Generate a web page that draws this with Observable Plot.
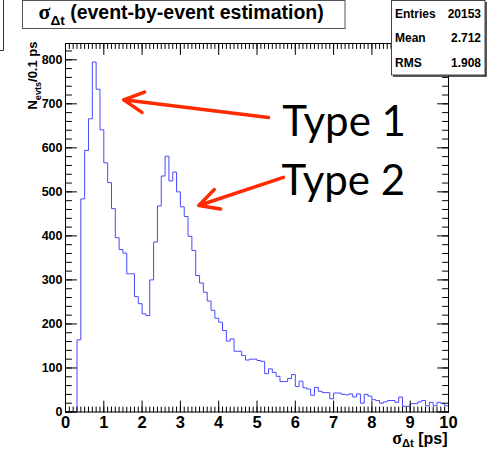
<!DOCTYPE html>
<html><head><meta charset="utf-8">
<script src="https://cdn.jsdelivr.net/npm/d3@7"></script>
<script src="https://cdn.jsdelivr.net/npm/@observablehq/plot@0.6"></script>
<style>html,body{margin:0;padding:0;background:#fff;} svg{display:block}</style>
</head><body><div id="chart"></div>
<script>
// ---- data ----
const binWidth = 0.1;
const binCounts = [
  0, 0, 0, 164, 484, 594, 666, 795, 733, 641,
  566, 521, 462, 396, 369, 361, 314, 314, 262, 246,
  223, 219, 300, 386, 468, 536, 581, 525, 545, 500,
  466, 444, 399, 367, 310, 293, 272, 252, 231, 213,
  204, 185, 161, 166, 138, 138, 128, 118, 120, 120,
  117, 115, 87, 98, 90, 81, 69, 69, 76, 85,
  58, 70, 55, 52, 38, 56, 47, 44, 44, 30,
  43, 43, 40, 39, 41, 34, 41, 20, 40, 36,
  28, 26, 20, 23, 26, 26, 22, 34, 13, 13,
  19, 19, 23, 26, 14, 22, 14, 22, 19, 14
];
const xMajorTicks = [0, 1, 2, 3, 4, 5, 6, 7, 8, 9, 10];
const yMajorTicks = [0, 100, 200, 300, 400, 500, 600, 700, 800];
const statsNames = ["Entries", "Mean", "RMS"];
const statsValues = ["20153", "2.712", "1.908"];
const annotationLabels = ["Type 1", "Type 2"];
const annotationTextX = [5.66, 5.64];
const annotationTextY = [626, 494];
const arrowFromX = [5.30, 5.69];
const arrowFromY = [669, 533];
const arrowToX = [1.52, 3.48];
const arrowToY = [709, 469];
const titleText = "σΔt (event-by-event estimation)";
const xLabelText = "σΔt [ps]";
const yLabelText = "Nevts/0.1 ps";

// ---- derived tables ----
const steps = binCounts.map((c, i) => ({x: +(i * binWidth).toFixed(1), y: c}));
steps.push({x: 10, y: binCounts[binCounts.length - 1]});
const annotations = annotationLabels.map((t, i) => ({t, x: annotationTextX[i], y: annotationTextY[i]}));
const arrows = arrowFromX.map((_, i) => ({x1: arrowFromX[i], y1: arrowFromY[i], x2: arrowToX[i], y2: arrowToY[i]}));
const xMinor = d3.range(0, 101).map(i => i / 10);
const yMinor = d3.range(0, 42).map(i => i * 20);

const lineShape = {draw(ctx, l) { ctx.moveTo(0, 0); ctx.lineTo(0, -l); }};
const tk = {shape: lineShape, anchor: "start", stroke: "black", strokeWidth: 1};
const bold = {fontWeight: "bold", fill: "black"};

const chart = Plot.plot({
  width: 495, height: 450,
  marginLeft: 65, marginRight: 47, marginTop: 43, marginBottom: 38.5,
  x: {domain: [0, 10]},
  y: {domain: [0, 837]},
  style: {fontFamily: "'Liberation Sans', Arial, sans-serif", background: "white", color: "black"},
  marks: [
    Plot.line(steps, {x: "x", y: "y", curve: "step-after", stroke: "#4848ff", strokeWidth: 1}),
    Plot.frame({stroke: "black", strokeWidth: 1}),
    Plot.vector(xMinor, {x: d => d, frameAnchor: "bottom", rotate: 0, length: 5, ...tk}),
    Plot.vector(xMajorTicks, {x: d => d, frameAnchor: "bottom", rotate: 0, length: 11, ...tk}),
    Plot.vector(xMinor, {x: d => d, frameAnchor: "top", rotate: 180, length: 5, ...tk}),
    Plot.vector(xMajorTicks, {x: d => d, frameAnchor: "top", rotate: 180, length: 11, ...tk}),
    Plot.vector(yMinor, {y: d => d, frameAnchor: "left", rotate: 90, length: 6, ...tk}),
    Plot.vector(yMajorTicks, {y: d => d, frameAnchor: "left", rotate: 90, length: 11, ...tk}),
    Plot.vector(yMinor, {y: d => d, frameAnchor: "right", rotate: -90, length: 6, ...tk}),
    Plot.vector(yMajorTicks, {y: d => d, frameAnchor: "right", rotate: -90, length: 11, ...tk}),
    Plot.axisX({ticks: xMajorTicks, tickSize: 0, tickPadding: 4.5, fontSize: 16.5, label: null, ...bold}),
    Plot.axisY({ticks: yMajorTicks, tickSize: 0, tickPadding: 3, fontSize: 12.5, label: null, ...bold}),
    Plot.arrow(arrows, {x1: "x1", y1: "y1", x2: "x2", y2: "y2", stroke: "#ff2a00", strokeWidth: 3.5,
      headLength: 9.5, headAngle: 55, strokeLinecap: "round", strokeLinejoin: "round"}),
    Plot.text(annotations, {x: "x", y: "y", text: "t", textAnchor: "start", lineAnchor: "bottom",
      fontSize: 42, fontFamily: "Lato, 'Noto Sans', sans-serif", fill: "black"}),
    Plot.text([yLabelText], {text: d => d, frameAnchor: "top-left", rotate: -90, textAnchor: "end",
      lineAnchor: "bottom", dx: -29, dy: -2, fontSize: 13, ...bold}),
    Plot.text([xLabelText], {text: d => d, frameAnchor: "bottom-right", textAnchor: "end",
      lineAnchor: "bottom", dx: -1, dy: 31.5, fontSize: 16, ...bold}),
    Plot.text([titleText], {text: d => d, frameAnchor: "top-left", textAnchor: "start",
      lineAnchor: "bottom", dx: -27, dy: -24.5, fontSize: 19.5, ...bold})
  ]
});
document.getElementById("chart").appendChild(chart);

const svg = d3.select(chart);
const serif = "'Liberation Serif', 'DejaVu Serif', serif";
function setRich(content, parts, basePx, subShift) {
  const text = svg.selectAll("text").filter(function() { return this.textContent === content; });
  text.selectAll("*").remove();
  text.text(null);
  let shift = 0;
  for (const p of parts) {
    const ts = text.append("tspan").text(p.t);
    const target = p.sub ? basePx * subShift : 0;
    if (target !== shift) { ts.attr("dy", target - shift); shift = target; }
    if (p.sub) ts.attr("font-size", basePx * 0.7);
    if (p.serif) ts.attr("font-family", serif).attr("font-size", basePx * 1.12);
  }
}
setRich(yLabelText, [{t: "N"}, {t: "evts", sub: true}, {t: "/0.1 ps"}], 13, 0.32);
setRich(xLabelText, [{t: "σ", serif: true}, {t: "Δt", sub: true}, {t: " [ps]"}], 16, 0.2);
setRich(titleText, [{t: "σ", serif: true}, {t: "Δt", sub: true}, {t: " (event-by-event estimation)"}], 19.5, 0.32);

// title box
svg.append("rect").attr("x", 22.5).attr("y", 0.5).attr("width", 322.5).attr("height", 28)
  .attr("fill", "none").attr("stroke", "#555").attr("stroke-width", 1);
// partial box at the left edge
svg.append("path").attr("d", "M3.5,0V50.5H0").attr("fill", "none").attr("stroke", "#333");

// stats box
const sb = svg.append("g").attr("font-family", "'Liberation Sans', Arial, sans-serif")
  .attr("font-weight", "bold").attr("font-size", 12).attr("fill", "black");
sb.append("path").attr("d", "M486,2V76H393").attr("fill", "none").attr("stroke", "#222").attr("stroke-width", 1.5);
sb.append("rect").attr("x", 391.5).attr("y", 0.5).attr("width", 93.5).attr("height", 74.5)
  .attr("fill", "white").attr("stroke", "#444");
statsNames.forEach((n, i) => {
  sb.append("text").attr("x", 395).attr("y", 18 + 24.3 * i).attr("text-anchor", "start").text(n);
  sb.append("text").attr("x", 481).attr("y", 18 + 24.3 * i).attr("text-anchor", "end").text(statsValues[i]);
});
</script>
</body></html>
